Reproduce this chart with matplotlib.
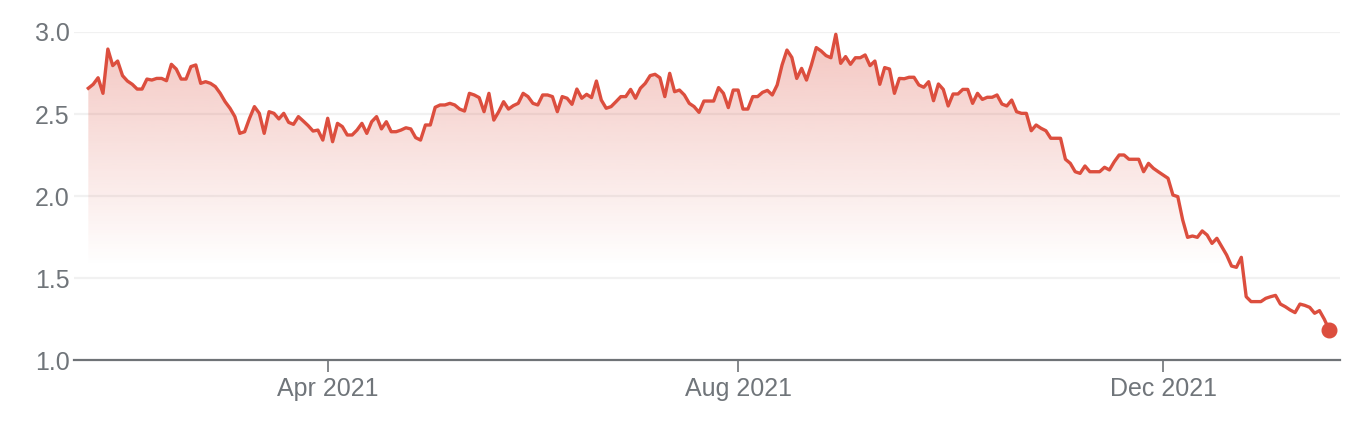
import matplotlib
matplotlib.use("Agg")
import matplotlib.pyplot as plt
import numpy as np
import pandas as pd
from matplotlib.colors import to_rgb

# ---- data (daily closing prices) ----
prices = [
    2.657, 2.681, 2.721, 2.626, 2.896, 2.795, 2.823, 2.734, 2.701, 2.681,
    2.652, 2.652, 2.713, 2.707, 2.717, 2.717, 2.703, 2.803, 2.774, 2.713,
    2.713, 2.789, 2.799, 2.687, 2.697, 2.687, 2.667, 2.626, 2.575, 2.535,
    2.484, 2.382, 2.392, 2.474, 2.545, 2.504, 2.382, 2.514, 2.504, 2.470,
    2.504, 2.449, 2.437, 2.484, 2.457, 2.429, 2.396, 2.402, 2.341, 2.474,
    2.331, 2.443, 2.423, 2.372, 2.372, 2.402, 2.443, 2.382, 2.453, 2.484,
    2.409, 2.453, 2.392, 2.392, 2.402, 2.416, 2.409, 2.356, 2.341, 2.433,
    2.433, 2.541, 2.555, 2.555, 2.565, 2.555, 2.530, 2.518, 2.626, 2.616,
    2.600, 2.514, 2.626, 2.463, 2.514, 2.575, 2.530, 2.551, 2.565, 2.626,
    2.606, 2.565, 2.555, 2.616, 2.616, 2.606, 2.514, 2.606, 2.596, 2.559,
    2.652, 2.596, 2.620, 2.600, 2.701, 2.585, 2.535, 2.545, 2.575, 2.606,
    2.606, 2.650, 2.596, 2.657, 2.687, 2.734, 2.742, 2.721, 2.606, 2.748,
    2.636, 2.646, 2.616, 2.565, 2.545, 2.510, 2.579, 2.579, 2.579, 2.661,
    2.626, 2.539, 2.646, 2.646, 2.530, 2.530, 2.606, 2.606, 2.632, 2.644,
    2.616, 2.677, 2.799, 2.890, 2.845, 2.717, 2.778, 2.707, 2.799, 2.905,
    2.884, 2.856, 2.843, 2.986, 2.809, 2.850, 2.803, 2.843, 2.843, 2.860,
    2.795, 2.823, 2.681, 2.783, 2.774, 2.626, 2.717, 2.715, 2.724, 2.724,
    2.677, 2.663, 2.697, 2.581, 2.683, 2.650, 2.549, 2.622, 2.622, 2.650,
    2.650, 2.565, 2.626, 2.589, 2.602, 2.602, 2.616, 2.561, 2.549, 2.585,
    2.514, 2.504, 2.504, 2.398, 2.433, 2.413, 2.398, 2.352, 2.352, 2.352,
    2.224, 2.199, 2.148, 2.138, 2.183, 2.148, 2.148, 2.148, 2.175, 2.159,
    2.209, 2.250, 2.250, 2.224, 2.224, 2.224, 2.148, 2.199, 2.169, 2.148,
    2.128, 2.108, 2.006, 1.996, 1.854, 1.748, 1.756, 1.748, 1.787, 1.762,
    1.711, 1.742, 1.691, 1.640, 1.573, 1.565, 1.626, 1.386, 1.356, 1.356,
    1.356, 1.376, 1.386, 1.394, 1.341, 1.325, 1.305, 1.289, 1.341, 1.333,
    1.321, 1.285, 1.301, 1.248, 1.183,
]
start_date = "2021-01-21"
market_holidays = ["2021-02-15", "2021-04-02", "2021-05-31", "2021-07-05",
                   "2021-12-24", "2022-01-17"]
tick_dates = ["2021-04-01", "2021-08-01", "2021-12-01"]
tick_labels = ["Apr 2021", "Aug 2021", "Dec 2021"]
y_ticks = [1.0, 1.5, 2.0, 2.5, 3.0]
y_tick_labels = ["1.0", "1.5", "2.0", "2.5", "3.0"]

# ---- styling ----
LINE = "#dc4e3e"
TEXT = "#70757a"
AXIS = "#6f7377"
GRID = "#f1f1f1"
plt.rcParams["font.family"] = ["Liberation Sans", "DejaVu Sans"]

dates = pd.bdate_range(start=start_date, periods=len(prices), freq="C",
                       holidays=market_holidays)
x = np.arange(len(prices))
tick_pos = dates.searchsorted(pd.to_datetime(tick_dates))

fig = plt.figure(figsize=(13.68, 4.36), dpi=100)
ax = fig.add_axes([74 / 1368, 76 / 436, 1266 / 1368, 328 / 436])

# gradient fill under the line
ys = np.linspace(1.0, 3.0, 400)
alpha = np.clip((ys - 1.57) / (3.0 - 1.57), 0, 1) * 0.33
rgba = np.zeros((len(ys), 1, 4))
rgba[..., :3] = to_rgb(LINE)
rgba[..., 3] = alpha[:, None]
im = ax.imshow(rgba, extent=[x[0], x[-1], 1.0, 3.0], origin="lower",
               aspect="auto", zorder=1, interpolation="bilinear")
poly = ax.fill_between(x, prices, 1.0, facecolor="none", edgecolor="none")
im.set_clip_path(poly.get_paths()[0], transform=ax.transData)

ax.plot(x, prices, color=LINE, lw=2.4, zorder=3, clip_on=False)
ax.plot(x[-1], prices[-1], "o", ms=10.5, color=LINE, zorder=4, clip_on=False)

ax.set_xlim(-2.93, len(prices) - 1 + 2.2)
ax.set_ylim(1.0, 3.0)

for yv in y_ticks[1:]:
    ax.axhline(yv, color=GRID, lw=1.6, zorder=0.5)

ax.set_yticks(y_ticks)
ax.set_yticklabels(y_tick_labels)
ax.set_xticks(tick_pos)
ax.set_xticklabels(tick_labels)

for s in ["top", "right", "left"]:
    ax.spines[s].set_visible(False)
ax.spines["bottom"].set_color(AXIS)
ax.spines["bottom"].set_linewidth(1.6)
ax.spines["bottom"].set_zorder(5)

ax.tick_params(axis="y", length=0, pad=3, labelsize=18, labelcolor=TEXT)
ax.tick_params(axis="x", length=8.5, width=1.2, color=AXIS, pad=4,
               labelsize=18, labelcolor=TEXT)

fig.savefig("out.png", dpi=100, facecolor="white")
